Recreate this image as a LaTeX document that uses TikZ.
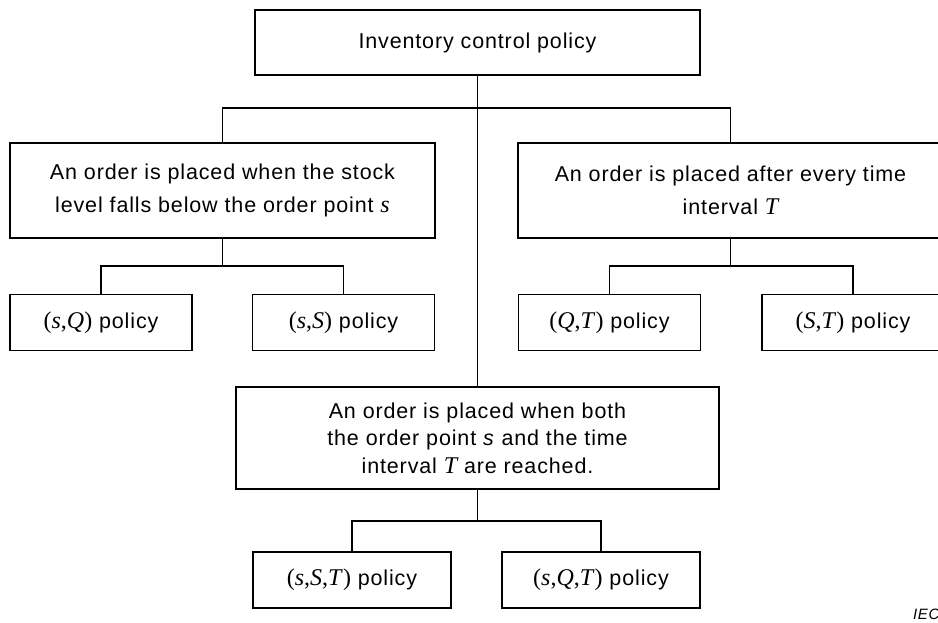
\documentclass[tikz,border=0pt]{standalone}
\usepackage{fontspec}
\setmainfont{Liberation Sans}[LetterSpace=4]
\newfontfamily\serf{Liberation Serif}
\newcommand{\mv}[1]{{\fontsize{24}{24}\selectfont\serf\itshape #1}}
\newcommand{\pol}[1]{{\fontsize{24}{24}\selectfont\serf #1}}
\begin{document}
\begin{tikzpicture}[x=1pt,y=-1pt,
  box/.style={draw, line width=1.9pt, inner sep=0pt, align=center, font=\fontsize{21.5}{32.5}\selectfont},
  bigbox/.style={box, minimum width=425pt, minimum height=95pt},
  polbox/.style={box, minimum width=182pt, minimum height=56pt},
  conn/.style={line width=1.9pt}]
\useasboundingbox (0,0) rectangle (938,623);
\clip (0,0) rectangle (938,623);
\node[box, minimum width=445pt, minimum height=65pt] (top) at (477.5,42.5) {Inventory control policy};
\node[bigbox] (L) at (222.5,190.3) {An order is placed when the stock\\level falls below the order point \mv{s}};
\node[bigbox] (R) at (730.5,190.3) {An order is placed after every time\\interval \mv{T}};
\node[polbox] (sQ) at (101,322.5) {\pol{(\textit{s},\textit{Q})} policy};
\node[polbox] (sS) at (343.5,322.5) {\pol{(\textit{s},\textit{S})} policy};
\node[polbox] (QT) at (609.5,322.5) {\pol{(\textit{Q},\textit{T})} policy};
\node[polbox] (ST) at (853,322.5) {\pol{(\textit{S},\textit{T})} policy};
\node[box, minimum width=483pt, minimum height=102pt, font=\fontsize{21.5}{27.5}\selectfont] (M) at (477.5,438) {An order is placed when both\\the order point \textit{s} and the time\\interval \mv{T} are reached.};
\node[polbox, minimum width=198pt] (sST) at (352,580) {\pol{(\textit{s},\textit{S},\textit{T})} policy};
\node[polbox, minimum width=198pt] (sQT) at (601,580) {\pol{(\textit{s},\textit{Q},\textit{T})} policy};
\node[anchor=base west, inner sep=0pt, font=\fontsize{15}{15}\selectfont\itshape] (iec) at (913,619) {IEC};
\coordinate (j1) at (477.5,108);
\coordinate (j2) at (222.5,266);
\coordinate (j3) at (730.5,266);
\coordinate (j4) at (477.5,521);
\draw[conn] (top.south) -- (M.north);
\draw[conn] (L.north) |- (j1) -| (R.north);
\draw[conn] (L.south) -- (j2);
\draw[conn] (sQ.north) |- (j2) -| (sS.north);
\draw[conn] (R.south) -- (j3);
\draw[conn] (QT.north) |- (j3) -| (ST.north);
\draw[conn] (M.south) -- (j4);
\draw[conn] (sST.north) |- (j4) -| (sQT.north);
\end{tikzpicture}
\end{document}
